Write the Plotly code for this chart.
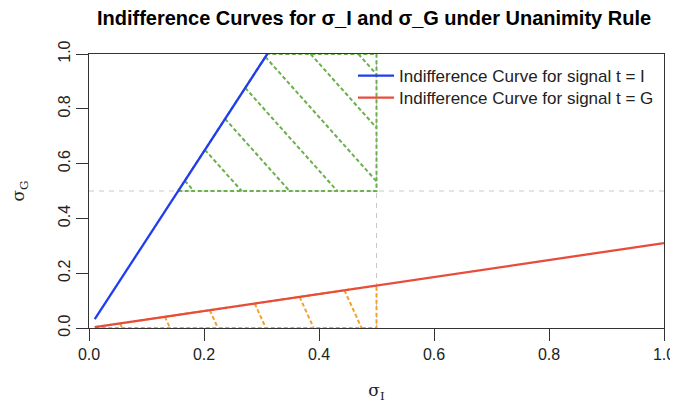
import numpy as np
import plotly.graph_objects as go

# ---------------- data ----------------
blue_sigma_I = [0.01, 0.31]
blue_sigma_G = [0.032, 1.0]
red_sigma_I = [0.01, 1.0]
red_sigma_G = [0.0031, 0.31]
threshold_I = 0.5
threshold_G = 0.5
x_ticks = [0.0, 0.2, 0.4, 0.6, 0.8, 1.0]
y_ticks = [0.0, 0.2, 0.4, 0.6, 0.8, 1.0]
tick_text = ["0.0", "0.2", "0.4", "0.6", "0.8", "1.0"]
legend_labels = ["Indifference Curve for signal t = I", "Indifference Curve for signal t = G"]

# ---------------- styles ----------------
BLUE = "#1f3cf0"
RED = "#e74c3c"
GREEN = "#6ab04c"
ORANGE = "#f3a12a"
HATCH_DASH = "4px,2.5px"
OFF = 8  # page body margin
W, H = 670, 395
ML, MR, MT, MB = 81, 14, 46, 75
PW, PH = W - ML - MR, H - MT - MB  # plot area in px
FONT = "Liberation Sans, Arial, Helvetica, sans-serif"
SERIF = "DejaVu Serif, Liberation Serif, serif"

def interp_x_at_y(xs, ys, y):
    return xs[0] + (y - ys[0]) * (xs[1] - xs[0]) / (ys[1] - ys[0])

def interp_y_at_x(xs, ys, x):
    return ys[0] + (x - xs[0]) * (ys[1] - ys[0]) / (xs[1] - xs[0])

xb = interp_x_at_y(blue_sigma_I, blue_sigma_G, threshold_G)
xt = interp_x_at_y(blue_sigma_I, blue_sigma_G, 1.0)
green_poly = [(xb, threshold_G), (threshold_I, threshold_G), (threshold_I, 1.0), (xt, 1.0)]
yr = interp_y_at_x(red_sigma_I, red_sigma_G, threshold_I)
orange_poly = [(red_sigma_I[0], red_sigma_G[0]), (threshold_I, yr), (threshold_I, 0.0), (red_sigma_I[0], 0.0)]


def hatch(poly, slope_px, spacing_px, anchor_x, anchor_y, nrange=(-20, 20)):
    """Parallel hatch lines (in pixel space) clipped to a convex polygon; returns data coords."""
    P = [(x * PW, y * PH) for x, y in poly]
    d = np.array([1.0, -slope_px]); d /= np.linalg.norm(d)
    xs, ys = [], []
    for k in range(*nrange):
        p0 = np.array([anchor_x * PW + k * spacing_px, anchor_y * PH])
        ts = []
        for i in range(len(P)):
            a = np.array(P[i]); b = np.array(P[(i + 1) % len(P)])
            e = b - a
            M = np.array([[d[0], -e[0]], [d[1], -e[1]]])
            if abs(np.linalg.det(M)) < 1e-9:
                continue
            t, u = np.linalg.solve(M, a - p0)
            if -1e-9 <= u <= 1 + 1e-9:
                ts.append(t)
        if len(ts) >= 2 and max(ts) - min(ts) > 1e-6:
            q0 = p0 + min(ts) * d; q1 = p0 + max(ts) * d
            xs += [q0[0] / PW, q1[0] / PW, None]
            ys += [q0[1] / PH, q1[1] / PH, None]
    return xs, ys

fig = go.Figure()

# reference lines
fig.add_hline(y=threshold_G, line=dict(color="#c8c8c8", width=1, dash="5px,5px"), layer="below")
fig.add_vline(x=threshold_I, line=dict(color="#c8c8c8", width=1, dash="5px,5px"), layer="below")

# green hatched region
gx, gy = hatch(green_poly, 1.12, 47.8, (241.7 - ML - OFF) / PW, threshold_G)
fig.add_trace(go.Scatter(x=gx, y=gy, mode="lines", line=dict(color=GREEN, width=2, dash=HATCH_DASH),
                         showlegend=False, hoverinfo="skip"))
fig.add_trace(go.Scatter(x=[p[0] for p in green_poly] + [green_poly[0][0]],
                         y=[p[1] for p in green_poly] + [green_poly[0][1]],
                         mode="lines", line=dict(color=GREEN, width=2, dash=HATCH_DASH),
                         showlegend=False, hoverinfo="skip"))

# orange hatched region
ox, oy = hatch(orange_poly, 2.2, 47.9, (170 - ML - OFF) / PW, 0.0)
fig.add_trace(go.Scatter(x=ox, y=oy, mode="lines", line=dict(color=ORANGE, width=2, dash=HATCH_DASH),
                         showlegend=False, hoverinfo="skip"))
fig.add_trace(go.Scatter(x=[p[0] for p in orange_poly] + [orange_poly[0][0]],
                         y=[p[1] for p in orange_poly] + [orange_poly[0][1]],
                         mode="lines", line=dict(color=ORANGE, width=2, dash=HATCH_DASH),
                         showlegend=False, hoverinfo="skip"))

# curves
fig.add_trace(go.Scatter(x=blue_sigma_I, y=blue_sigma_G, mode="lines", name=legend_labels[0],
                         line=dict(color=BLUE, width=2.3), legend="legend"))
fig.add_trace(go.Scatter(x=red_sigma_I, y=red_sigma_G, mode="lines", name=legend_labels[1],
                         line=dict(color=RED, width=2.3), legend="legend2"))

axis_common = dict(range=[0, 1], showgrid=False, zeroline=False, showline=True, mirror=True,
                   linecolor="#333333", linewidth=1, ticks="outside", ticklen=12, tickcolor="#333333",
                   ticklabeloverflow="allow",
                   tickfont=dict(family=FONT, size=16, color="#222222"))

legend_common = dict(xanchor="left", yanchor="top", bgcolor="rgba(0,0,0,0)", borderwidth=0,
                     itemwidth=36, font=dict(family=FONT, size=17, color="#222222"))
leg_x = (353 - ML - OFF) / PW

fig.update_layout(
    width=W, height=H,
    margin=dict(l=ML, r=MR, t=MT, b=MB, autoexpand=False),
    paper_bgcolor="white", plot_bgcolor="white",
    title=dict(text="<b>Indifference Curves for σ_I and σ_G under Unanimity Rule</b>",
               x=(374 - OFF) / W, xanchor="center", y=1 - (18 - OFF) / H, yanchor="middle",
               font=dict(family=FONT, size=20, color="black")),
    xaxis=dict(axis_common, tickvals=x_ticks, ticktext=tick_text,
               title=dict(text="σ<sub>I</sub>", standoff=24,
                          font=dict(family=SERIF, size=17, color="#222222"))),
    yaxis=dict(axis_common, tickvals=y_ticks, ticktext=tick_text, tickangle=-90,
               title=dict(text="σ<sub>G</sub>", standoff=30,
                          font=dict(family=SERIF, size=17, color="#222222"))),
    legend=dict(legend_common, x=leg_x, y=(MT + PH - (58 - OFF)) / PH),
    legend2=dict(legend_common, x=leg_x, y=(MT + PH - (80 - OFF)) / PH),
    hovermode=False,
)

fig.write_html("out.html")
